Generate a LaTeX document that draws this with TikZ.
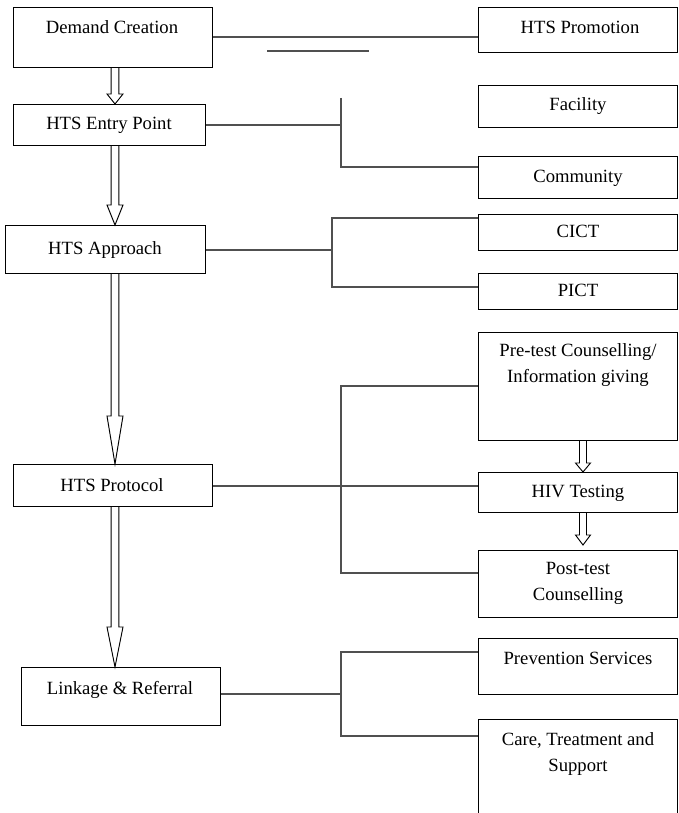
\documentclass[tikz,border=0pt]{standalone}
\usepackage{fontspec}
\setmainfont{Liberation Serif}
\usetikzlibrary{calc}

\definecolor{linkgray}{RGB}{80,80,80}

\tikzset{
  box/.style={draw=black, line width=0.8pt, rectangle, inner sep=0pt},
  label text/.style={font=\fontsize{14}{19}\selectfont, align=center, inner sep=0pt, anchor=base},
  linkline/.style={draw=linkgray, line width=0.85pt},
  arrowline/.style={draw=black, line width=0.7pt, line join=miter}
}

% rectangle node from two corners given in pixel units
\newcommand\boxnode[5]{%
  \node[box, anchor=north west, minimum width={(#4-#2)*0.75pt}, minimum height={(#5-#3)*0.75pt}] (#1) at (#2,#3) {};}

% hollow block arrow: start, tip, head length, shaft half width, head half width
\newcommand\blockarrow[5]{%
  \draw[arrowline] ($(#1)+(-#4,0)$) -- ($(#2)+(-#4,-#3)$) -- ($(#2)+(-#5,-#3)$) -- (#2)
    -- ($(#2)+(#5,-#3)$) -- ($(#2)+(#4,-#3)$) -- ($(#1)+(#4,0)$);}

\begin{document}
\begin{tikzpicture}[x=0.75pt, y=-0.75pt]
\useasboundingbox (0,0) rectangle (678,813);
\clip (0,0) rectangle (678,813);

% left column
\boxnode{dc}{13}{7}{212}{67}
\boxnode{ep}{13}{104}{205}{145}
\boxnode{ap}{5}{225}{205}{273}
\boxnode{pr}{13}{464}{212}{506}
\boxnode{lr}{21}{667}{220}{725}

\node[label text] at (112,34) {Demand Creation};
\node[label text] at (109,130) {HTS Entry Point};
\node[label text] at (105,254) {HTS Approach};
\node[label text] at (112,491) {HTS Protocol};
\node[label text] at (120,694) {Linkage \& Referral};

% right column
\boxnode{hp}{478}{7}{677}{52}
\boxnode{fac}{478}{85}{677}{127}
\boxnode{com}{478}{156}{677}{198}
\boxnode{cict}{478}{214}{677}{250}
\boxnode{pict}{478}{273}{677}{309}
\boxnode{pre}{478}{332}{677}{440}
\boxnode{hiv}{478}{472}{677}{512}
\boxnode{post}{478}{550}{677}{617}
\boxnode{ps}{478}{638}{677}{694}
\boxnode{care}{478}{719}{677}{840}

% single-line labels sit on their baseline, two-line labels on the last baseline
\node[label text] at (580,34) {HTS Promotion};
\node[label text] at (578,111) {Facility};
\node[label text] at (578,182) {Community};
\node[label text] at (578,237) {CICT};
\node[label text] at (578,296) {PICT};
\node[label text] at (578,382) {Pre-test Counselling/\\Information giving};
\node[label text] at (578,497) {HIV Testing};
\node[label text] at (578,600) {Post-test\\Counselling};
\node[label text] at (578,664) {Prevention Services};
\node[label text] at (578,771) {Care, Treatment and\\Support};

% junction points of the branch lines
\coordinate (promo) at (0,37);
\coordinate (s1) at (267,51);
\coordinate (s2) at (369,51);
\coordinate (j1t) at (341,98);
\coordinate (j1b) at (341,167);
\coordinate (m0) at (0,250);
\coordinate (j2t) at (332,218);
\coordinate (j2b) at (332,287);
\coordinate (j3t) at (341,386);
\coordinate (j3b) at (341,573);
\coordinate (j4t) at (341,652);
\coordinate (j4b) at (341,736);
\coordinate (m1) at (0,486);
\coordinate (m2) at (0,694);

% connectors
\draw[linkline] (dc.east |- promo) -- (hp.west |- promo);
\draw[linkline] (s1) -- (s2);

\draw[linkline] (ep.east) -- (ep.east -| j1t);
\draw[linkline] (j1t) -- (j1b) -- (j1b -| com.west);

\draw[linkline] (ap.east |- m0) -- (m0 -| j2t);
\draw[linkline] (j2t -| cict.west) -- (j2t) -- (j2b) -- (j2b -| pict.west);

\draw[linkline] (pr.east |- m1) -- (hiv.west |- m1);
\draw[linkline] (j3t -| pre.west) -- (j3t) -- (j3b) -- (j3b -| post.west);

\draw[linkline] (lr.east |- m2) -- (m2 -| j4t);
\draw[linkline] (j4t -| ps.west) -- (j4t) -- (j4b) -- (j4b -| care.west);

% block arrows down the left column
\coordinate (ax) at (115,0);
\blockarrow{dc.south -| ax}{ep.north -| ax}{10}{3.8}{8}
\blockarrow{ep.south -| ax}{ap.north -| ax}{20}{3.8}{8}
\blockarrow{ap.south -| ax}{pr.north -| ax}{48}{3.8}{8}
\blockarrow{pr.south -| ax}{lr.north -| ax}{40}{3.8}{8}

% block arrows in the protocol column
\coordinate (bx) at (583,0);
\coordinate (t2) at (583,545);
\blockarrow{pre.south -| bx}{hiv.north -| bx}{9}{3.5}{7.5}
\blockarrow{hiv.south -| bx}{t2}{10}{3.5}{7.5}

\end{tikzpicture}
\end{document}
